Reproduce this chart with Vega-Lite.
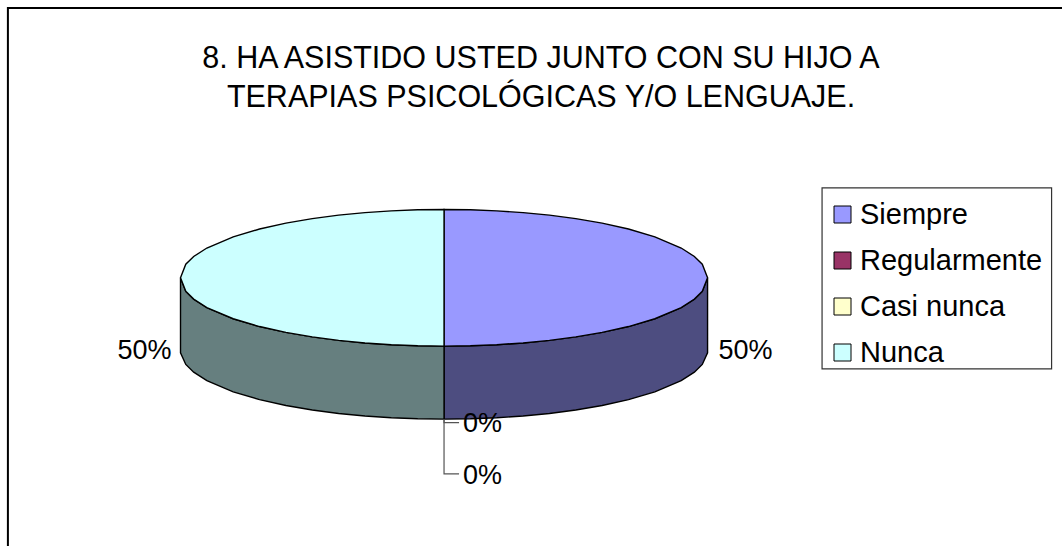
{
"$schema":"https://vega.github.io/schema/vega-lite/v6.json",
"width":1062,"height":546,"padding":0,"autosize":{"type":"none"},
"background":"white",
"config":{"view":{"stroke":null},"font":"Liberation Sans"},
"title":{"text":["8. HA ASISTIDO USTED JUNTO CON SU HIJO A","TERAPIAS PSICOLÓGICAS Y/O LENGUAJE."],"font":"Liberation Sans","fontSize":30.5,"fontWeight":"normal","color":"black","anchor":"start","align":"center","dx":541,"dy":137,"lineHeight":39,"baseline":"alphabetic","offset":0},
"datasets":{
"caras":[
{"categoria":"Siempre","u":0,"arriba":1,"abajo":-1},
{"categoria":"Siempre","u":0.1,"arriba":0.995,"abajo":-0.995},
{"categoria":"Siempre","u":0.2,"arriba":0.98,"abajo":-0.98},
{"categoria":"Siempre","u":0.3,"arriba":0.954,"abajo":-0.954},
{"categoria":"Siempre","u":0.4,"arriba":0.917,"abajo":-0.917},
{"categoria":"Siempre","u":0.5,"arriba":0.866,"abajo":-0.866},
{"categoria":"Siempre","u":0.6,"arriba":0.8,"abajo":-0.8},
{"categoria":"Siempre","u":0.7,"arriba":0.714,"abajo":-0.714},
{"categoria":"Siempre","u":0.8,"arriba":0.6,"abajo":-0.6},
{"categoria":"Siempre","u":0.9,"arriba":0.436,"abajo":-0.436},
{"categoria":"Siempre","u":0.95,"arriba":0.312,"abajo":-0.312},
{"categoria":"Siempre","u":0.98,"arriba":0.199,"abajo":-0.199},
{"categoria":"Siempre","u":1,"arriba":0,"abajo":0},
{"categoria":"Nunca","u":0,"arriba":1,"abajo":-1},
{"categoria":"Nunca","u":-0.1,"arriba":0.995,"abajo":-0.995},
{"categoria":"Nunca","u":-0.2,"arriba":0.98,"abajo":-0.98},
{"categoria":"Nunca","u":-0.3,"arriba":0.954,"abajo":-0.954},
{"categoria":"Nunca","u":-0.4,"arriba":0.917,"abajo":-0.917},
{"categoria":"Nunca","u":-0.5,"arriba":0.866,"abajo":-0.866},
{"categoria":"Nunca","u":-0.6,"arriba":0.8,"abajo":-0.8},
{"categoria":"Nunca","u":-0.7,"arriba":0.714,"abajo":-0.714},
{"categoria":"Nunca","u":-0.8,"arriba":0.6,"abajo":-0.6},
{"categoria":"Nunca","u":-0.9,"arriba":0.436,"abajo":-0.436},
{"categoria":"Nunca","u":-0.95,"arriba":0.312,"abajo":-0.312},
{"categoria":"Nunca","u":-0.98,"arriba":0.199,"abajo":-0.199},
{"categoria":"Nunca","u":-1,"arriba":0,"abajo":0}
],
"lados":[
{"categoria":"Siempre","u":0,"arriba":-1,"abajo":-2.07},
{"categoria":"Siempre","u":0.1,"arriba":-0.995,"abajo":-2.065},
{"categoria":"Siempre","u":0.2,"arriba":-0.98,"abajo":-2.05},
{"categoria":"Siempre","u":0.3,"arriba":-0.954,"abajo":-2.024},
{"categoria":"Siempre","u":0.4,"arriba":-0.917,"abajo":-1.987},
{"categoria":"Siempre","u":0.5,"arriba":-0.866,"abajo":-1.936},
{"categoria":"Siempre","u":0.6,"arriba":-0.8,"abajo":-1.87},
{"categoria":"Siempre","u":0.7,"arriba":-0.714,"abajo":-1.784},
{"categoria":"Siempre","u":0.8,"arriba":-0.6,"abajo":-1.67},
{"categoria":"Siempre","u":0.9,"arriba":-0.436,"abajo":-1.506},
{"categoria":"Siempre","u":0.95,"arriba":-0.312,"abajo":-1.382},
{"categoria":"Siempre","u":0.98,"arriba":-0.199,"abajo":-1.269},
{"categoria":"Siempre","u":1,"arriba":0,"abajo":-1.1},
{"categoria":"Nunca","u":0,"arriba":-1,"abajo":-2.07},
{"categoria":"Nunca","u":-0.1,"arriba":-0.995,"abajo":-2.065},
{"categoria":"Nunca","u":-0.2,"arriba":-0.98,"abajo":-2.05},
{"categoria":"Nunca","u":-0.3,"arriba":-0.954,"abajo":-2.024},
{"categoria":"Nunca","u":-0.4,"arriba":-0.917,"abajo":-1.987},
{"categoria":"Nunca","u":-0.5,"arriba":-0.866,"abajo":-1.936},
{"categoria":"Nunca","u":-0.6,"arriba":-0.8,"abajo":-1.87},
{"categoria":"Nunca","u":-0.7,"arriba":-0.714,"abajo":-1.784},
{"categoria":"Nunca","u":-0.8,"arriba":-0.6,"abajo":-1.67},
{"categoria":"Nunca","u":-0.9,"arriba":-0.436,"abajo":-1.506},
{"categoria":"Nunca","u":-0.95,"arriba":-0.312,"abajo":-1.382},
{"categoria":"Nunca","u":-0.98,"arriba":-0.199,"abajo":-1.269},
{"categoria":"Nunca","u":-1,"arriba":0,"abajo":-1.1}
],
"etiquetas":[
{"categoria":"Siempre","etiqueta":"50%","u":1.144,"v":-1.07},
{"categoria":"Nunca","etiqueta":"50%","u":-1.137,"v":-1.07},
{"categoria":"Regularmente","etiqueta":"0%","u":0.146,"v":-2.14},
{"categoria":"Casi nunca","etiqueta":"0%","u":0.146,"v":-2.9}
],
"guias":[
{"guia":"Regularmente","orden":1,"u":0,"v":-2.07},
{"guia":"Regularmente","orden":2,"u":0,"v":-2.12},
{"guia":"Regularmente","orden":3,"u":0.057,"v":-2.12},
{"guia":"Casi nunca","orden":1,"u":0,"v":-2.07},
{"guia":"Casi nunca","orden":2,"u":0,"v":-2.87},
{"guia":"Casi nunca","orden":3,"u":0.057,"v":-2.87}
],
"marco":[
{"orden":1,"u":-1.655,"v":-3.927},
{"orden":2,"u":-1.655,"v":3.95},
{"orden":3,"u":2.345,"v":3.95}
],
"recuadro":[{"u":1.4345,"u2":2.3055,"v":1.315,"v2":-1.335}]
},
"layer":[
{"data":{"name":"marco"},"mark":{"type":"line","stroke":"black","strokeWidth":2},
 "encoding":{"x":{"field":"u","type":"quantitative","scale":{"domain":[-1.685,2.345],"nice":false,"zero":false},"axis":null},
 "y":{"field":"v","type":"quantitative","scale":{"domain":[-3.927,4.067],"nice":false,"zero":false},"axis":null},
 "order":{"field":"orden"}}},
{"data":{"name":"recuadro"},"mark":{"type":"rect","fill":"white","stroke":"#333333","strokeWidth":1.2},
 "encoding":{"x":{"field":"u","type":"quantitative"},"x2":{"field":"u2"},"y":{"field":"v","type":"quantitative"},"y2":{"field":"v2"}}},
{"data":{"name":"lados"},"mark":{"type":"area","orient":"vertical","stroke":"black","strokeWidth":1.4},
 "encoding":{"x":{"field":"u","type":"quantitative"},"y":{"field":"arriba","type":"quantitative"},"y2":{"field":"abajo"},
 "detail":{"field":"categoria"},
 "fill":{"condition":{"test":"datum.categoria==='Siempre'","value":"#4D4D80"},"value":"#667F7F"}}},
{"data":{"name":"caras"},"mark":{"type":"area","orient":"vertical","stroke":"black","strokeWidth":1.4},
 "encoding":{"x":{"field":"u","type":"quantitative"},"y":{"field":"arriba","type":"quantitative"},"y2":{"field":"abajo"},
 "color":{"field":"categoria","type":"nominal","scale":{"domain":["Siempre","Regularmente","Casi nunca","Nunca"],"range":["#9999FF","#993366","#FFFFCC","#CCFFFF"]},
 "legend":{"title":null,"orient":"none","legendX":828,"legendY":200,"symbolType":"square","symbolSize":289,"symbolStrokeColor":"black","symbolStrokeWidth":1,"symbolOpacity":1,"labelFont":"Liberation Sans","labelFontSize":29,"labelColor":"black","labelOffset":3,"rowPadding":16,"padding":0,"labelLimit":400}}}},
{"data":{"name":"guias"},"mark":{"type":"line","stroke":"#555555","strokeWidth":1.2},
 "encoding":{"x":{"field":"u","type":"quantitative"},"y":{"field":"v","type":"quantitative"},"detail":{"field":"guia"},"order":{"field":"orden"}}},
{"data":{"name":"etiquetas"},"mark":{"type":"text","fontSize":27,"font":"Liberation Sans","color":"black","align":"center","baseline":"middle"},
 "encoding":{"x":{"field":"u","type":"quantitative"},"y":{"field":"v","type":"quantitative"},"text":{"field":"etiqueta"}}}
]
}
